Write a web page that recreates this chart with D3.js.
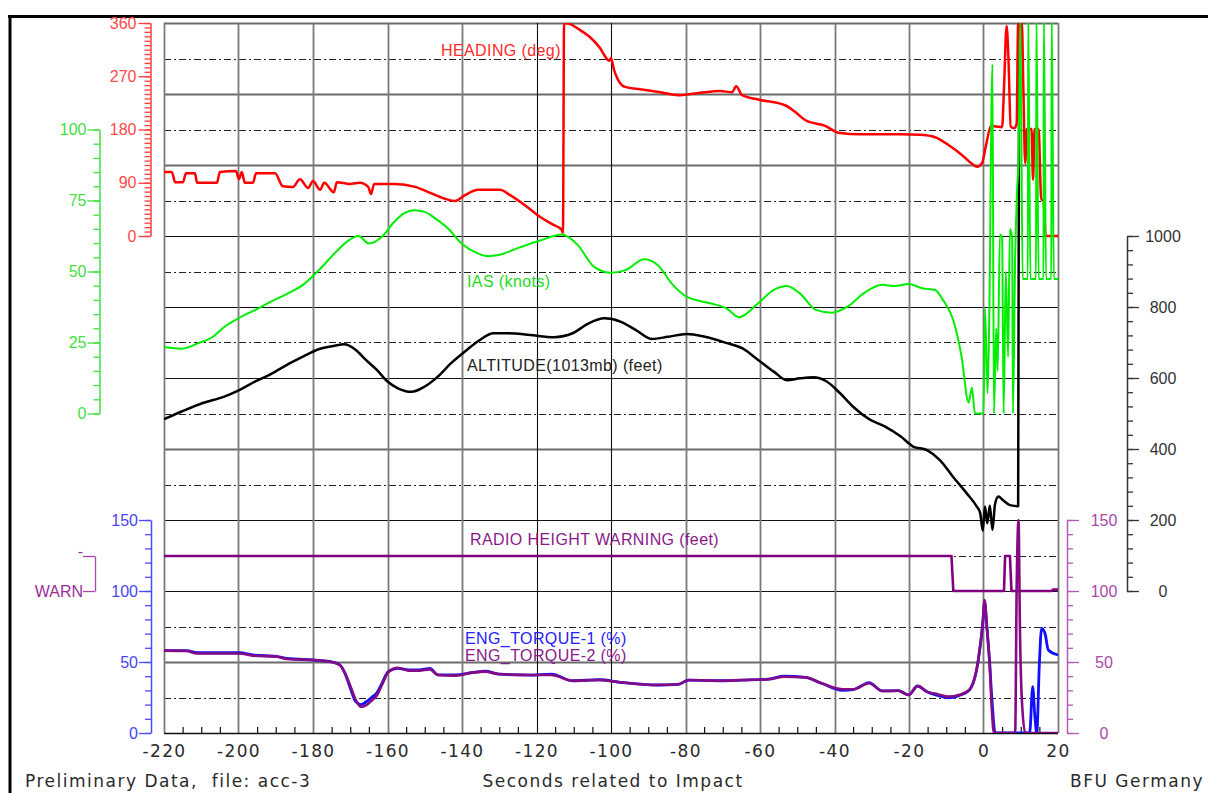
<!DOCTYPE html>
<html><head><meta charset="utf-8">
<script src="https://cdn.jsdelivr.net/npm/d3@7"></script>
<style>body{margin:0;background:#fff}svg{display:block}</style>
</head><body>
<svg id="c" width="1208" height="793"></svg>
<script>
// ---------------- DATA ----------------
const xTicks = [-220,-200,-180,-160,-140,-120,-100,-80,-60,-40,-20,0,20];
const headingTicks = [0,90,180,270,360];
const iasTicks = [0,25,50,75,100];
const altTicks = [0,200,400,600,800,1000];
const torqueTicks = [0,50,100,150];
const warnTicks = [0,1];
const warnLabels = ["WARN","-"];

// [seconds, heading deg]
const headingData = [[-220,108],[-217.9,108],[-217,91],[-214.9,91],[-214.1,106],[-211.7,106],[-211.1,90],[-205.8,90],[-205,108],[-200.7,110],[-199.9,96],[-199.1,108],[-198.3,90],[-196.1,90],[-195.3,106],[-190.2,106],[-188.1,84],[-185.4,83],[-183.5,96],[-181.3,81],[-180,93],[-178.1,78],[-177,90],[-174.4,74],[-173.6,91],[-170.1,88],[-167.4,90],[-165.2,83],[-164.4,71],[-163.6,88],[-158,88],[-152.6,83],[-148.6,73],[-144.6,63],[-141.9,59],[-139.2,69],[-135.7,78],[-129.8,78],[-127.1,69],[-123.1,52],[-119,32],[-115.8,20],[-113.2,10],[-112.9,5],[-112.6,360],[-111,358],[-108.3,348],[-105.6,336],[-103,318],[-101.3,301],[-100.5,296],[-100,301],[-99.2,281],[-98.1,264],[-96.2,252],[-92.2,248],[-86.8,243],[-81.5,238],[-76.1,242],[-70.7,245],[-67.5,243],[-66.4,253],[-64.8,238],[-60,230],[-53.3,221],[-50.6,210],[-47.9,196],[-42.5,186],[-38.5,174],[-33.2,172],[-22.4,172],[-17.1,171],[-13,167],[-9,152],[-5.8,137],[-3.1,122],[-1.7,117],[-0.4,123],[0.7,154],[2,186],[5,184],[5.5,250],[6.2,355],[6.7,300],[7.3,185],[8.3,182],[8.9,190],[9.3,360],[9.8,300],[10.3,360],[10.7,250],[11.2,123],[11.6,181],[12.9,181],[13.3,95],[13.7,181],[14.8,181],[15.5,61],[16.1,61],[16.7,0],[20,0]];

// [seconds, IAS knots]
const iasData = [[-220,23.4],[-215.4,22.8],[-211.1,24.6],[-206.8,27.1],[-204,30.3],[-199.9,33.6],[-194.1,37.4],[-191.3,39.4],[-187,42.1],[-182.7,45.3],[-178.4,50.5],[-174.2,56.4],[-170.6,60.8],[-167.8,62.5],[-165,59.9],[-161.5,62.2],[-158.6,66.9],[-155.7,70.4],[-152.9,71.6],[-150,71],[-147.2,68.7],[-143.8,65.2],[-140.1,59.9],[-135.8,56.4],[-133,55.4],[-130.2,55.8],[-124.5,58.5],[-118.8,61],[-113.2,63],[-108.9,59.3],[-104.6,51.7],[-100.3,49.6],[-96.1,50.5],[-91.1,54.3],[-87.5,52.3],[-83.4,45.3],[-79.8,41.2],[-73.4,38.8],[-69.1,37.1],[-65.6,33.9],[-60.5,38.8],[-56.3,43.5],[-52.8,44.9],[-49.3,42.3],[-45,36.5],[-40.7,35.5],[-36.4,37.7],[-32.2,42.3],[-27.2,45.3],[-23.7,44.9],[-20.1,45.6],[-16.5,44.1],[-13,43.5],[-10.9,40],[-8,32.4],[-5.9,20.1],[-4,3.8],[-3.1,9.1],[-2.3,0],[0,0],[0.4,37],[1.1,7],[1.5,30],[2.4,123],[2.8,0],[3.4,30],[3.8,15],[4.4,63],[5.0,62],[5.4,0],[6.0,50],[6.6,20],[7.1,65],[7.7,62],[7.9,0],[8.5,55],[9.0,78],[9.4,90],[9.9,140],[10.5,47.4],[11.9,47.4],[12.0,140],[12.6,47.4],[14.1,47.4],[14.2,140],[14.8,47.4],[16.1,47.4],[16.2,140],[16.8,47.4],[18.2,47.4],[18.3,140],[18.9,47.4],[20,47.4]];

// [seconds, altitude ft]
const altData = [[-220,484],[-215.4,505],[-209.8,529],[-204,547],[-199.8,566],[-195.6,590],[-191.3,611],[-187,637],[-182.7,660],[-178.5,681],[-174.2,691],[-171.7,695],[-168.5,679],[-165.8,651],[-162.8,622],[-160,590],[-157.2,571],[-153.6,561],[-150,576],[-146.5,604],[-143,641],[-138.7,679],[-135.2,707],[-131.6,726],[-127.4,726],[-121.7,721],[-115.3,715],[-110.3,726],[-106,754],[-101.8,768],[-97.5,759],[-93.3,735],[-89,710],[-84.7,716],[-79.7,724],[-74.8,716],[-69.1,699],[-64.8,684],[-60.5,651],[-56.3,618],[-52.8,594],[-49.3,599],[-45.7,602],[-42.1,590],[-38.5,557],[-35,519],[-30.7,484],[-26.4,463],[-22.2,435],[-18.9,407],[-15.2,397],[-11.7,369],[-8.2,322],[-4.5,275],[-1.8,238],[-0.9,220],[-0.2,170],[0.4,238],[1,191],[1.7,240],[2.4,172],[3.1,245],[4,266],[5.2,256],[7.1,242],[9.3,239],[9.6,1700]];

// [seconds, radio height warning state]
const warnData = [[-220,1],[-8.6,1],[-8.1,0],[5.5,0],[5.8,1],[7.1,1],[7.5,0],[18.4,0],[18.6,0.04],[20,0.04]];

// [seconds, torque %]
const torque1Data = [[-220,58],[-214,58],[-211.1,56.5],[-199.8,56.5],[-196.2,55],[-189.8,54],[-187,52.5],[-179.9,51.4],[-175.6,50.5],[-172.8,48],[-171.4,42],[-169.9,31],[-168.5,22],[-167.1,20],[-165.7,22],[-164.3,25],[-162.8,28.5],[-161.5,35],[-159.7,43.5],[-157.2,45.5],[-154.3,44.5],[-151.5,44.5],[-148.6,45.5],[-146.5,41],[-141.6,41],[-137.3,42.5],[-133.7,43.5],[-130.2,41.5],[-121.7,40.8],[-116,41.5],[-110.3,36.8],[-103.2,37.5],[-97.5,35.7],[-87.5,33.8],[-81.9,34.3],[-79.1,37.3],[-70.5,36.8],[-64.8,37.3],[-57.7,38],[-53.5,40],[-47.8,39.2],[-43.5,35],[-37.9,30],[-35,30.5],[-30.7,35.5],[-27.2,29.6],[-22.9,29.8],[-20.1,26.8],[-17.7,33.1],[-15.2,29.1],[-12.3,26.5],[-9.4,24.8],[-6.6,26.3],[-3.8,30.3],[-1.4,51.4],[-0.2,77.2],[0.3,92],[0.9,74.9],[1.6,51.4],[2.4,18.5],[3.1,0],[12.4,0],[13.2,32.6],[13.8,11.5],[14.3,0],[15,49],[15.6,73.7],[16.5,70.2],[17.4,58.5],[20,55]];
const torque2Data = [[-220,58],[-214,57.7],[-211.1,56],[-199.8,56],[-196.2,54.5],[-189.8,53.8],[-187,52.1],[-179.9,51.4],[-175.6,50.2],[-172.8,47.9],[-171.4,42],[-169.9,32.6],[-168.5,23.2],[-167.1,18.5],[-165.7,19.7],[-164.3,22.7],[-162.8,26.8],[-161.5,33.8],[-159.7,43.2],[-157.2,46],[-154.3,43.9],[-151.5,43.9],[-148.6,44.8],[-146.5,40.8],[-141.6,40.4],[-137.3,42.5],[-133.7,43.2],[-130.2,41.5],[-121.7,40.8],[-116,40.8],[-110.3,36.8],[-103.2,37.3],[-97.5,35.7],[-87.5,33.8],[-81.9,34.3],[-79.1,37.3],[-70.5,36.8],[-64.8,37.3],[-57.7,37.8],[-53.5,39.6],[-47.8,39.2],[-43.5,35],[-37.9,30.8],[-35,30.8],[-30.7,35],[-27.2,29.6],[-22.9,29.8],[-20.1,26.8],[-17.7,33.1],[-15.2,29.1],[-12.3,27.3],[-9.4,25.6],[-6.6,26.8],[-3.8,30.3],[-1.4,51.4],[-0.2,77.2],[0.3,93.7],[0.9,74.9],[1.6,51.4],[2.2,18.5],[2.8,0],[8.5,0],[8.9,100.7],[9.4,150],[9.8,70.2],[10.3,23.2],[11.2,0],[20,0]];

// ---------------- CHART ----------------
const svg = d3.select("#c");
const L = 164, R = 1058, T = 23, B = 733;
const x = d3.scaleLinear().domain([-220,20]).range([L,R]);
const yHead = d3.scaleLinear().domain([0,360]).range([236,T]);
const yIas = d3.scaleLinear().domain([0,100]).range([413.5,129.5]);
const yAlt = d3.scaleLinear().domain([0,1000]).range([591,236]);
const yTq = d3.scaleLinear().domain([0,150]).range([B,520]);
const yWarn = d3.scaleLinear().domain([0,1]).range([591,556]);
const yGrid = d3.scaleLinear().domain([0,20]).range([B,T]);

const ARIAL = "'Liberation Sans', Arial, sans-serif";
const VERD = "'DejaVu Sans', Verdana, sans-serif";

// outer frame
svg.append("line").attr("x1",8).attr("x2",1208).attr("y1",16.5).attr("y2",16.5).attr("stroke","#000").attr("stroke-width",3);
svg.append("line").attr("x1",10).attr("x2",10).attr("y1",15).attr("y2",793).attr("stroke","#000").attr("stroke-width",3);

// horizontal grid
const grid = svg.append("g");
d3.range(0,21).forEach(i => {
  const yy = Math.round(yGrid(i)) + 0.5;
  const ln = grid.append("line").attr("x1",L).attr("x2",R).attr("y1",yy).attr("y2",yy);
  if (i % 2 === 0) {
    const greyLine = [2,8,16,18,20].includes(i);
    ln.attr("stroke", greyLine ? "#6a6a6a" : "#111").attr("stroke-width", greyLine ? 1.8 : 1.1);
  } else {
    ln.attr("stroke","#222").attr("stroke-width",1).attr("stroke-dasharray","7,3,2,3");
  }
});
// vertical grid
xTicks.forEach(t => {
  const dark = (t === -120 || t === -100);
  const xx = Math.round(x(t)) + 0.5;
  grid.append("line").attr("x1",xx).attr("x2",xx).attr("y1",T).attr("y2",B)
    .attr("stroke", dark ? "#111" : "#7a7a7a").attr("stroke-width", dark ? 1.1 : 1.8);
});
grid.append("line").attr("x1",L).attr("x2",R).attr("y1",B+0.5).attr("y2",B+0.5).attr("stroke","#111").attr("stroke-width",1.4);

// minor x ticks (every 5 s)
svg.append("g").attr("transform",`translate(0,${B})`)
  .call(d3.axisTop(x).tickValues(d3.range(-215,20,5).filter(v => v % 20 !== 0)).tickSize(6).tickFormat(""))
  .call(g => g.select(".domain").remove())
  .selectAll("line").attr("stroke","#111").attr("stroke-width",1.2);

// x axis labels
const xa = svg.append("g").attr("transform",`translate(0,${B})`)
  .call(d3.axisBottom(x).tickValues(xTicks).tickSize(0).tickPadding(12).tickFormat(d => String(d)));
xa.select(".domain").remove();
xa.selectAll("text").attr("font-family",VERD).attr("font-size",17).attr("fill","#2a2a2a").attr("letter-spacing","1.4px");

// helper for y axes
function yAxis(make, tx, major, minor, color, labelColor) {
  const g = svg.append("g").attr("transform",`translate(${tx},0)`)
    .call(make().tickValues(minor).tickSize(6).tickFormat(""));
  g.select(".domain").remove();
  const m = svg.append("g").attr("transform",`translate(${tx},0)`)
    .call(make().tickValues(major).tickSize(12).tickSizeOuter(0).tickFormat(d => String(d)));
  g.selectAll("line").attr("stroke",color).attr("stroke-width",1.3);
  m.selectAll("line").attr("stroke",color).attr("stroke-width",1.3);
  m.select(".domain").attr("stroke",color).attr("stroke-width",1.5);
  m.selectAll("text").attr("font-family",ARIAL).attr("font-size",16).attr("fill",labelColor);
  return m;
}
// heading (red, left)
yAxis(() => d3.axisLeft(yHead).tickPadding(2), 150.5, headingTicks, d3.range(0,361,7.5), "#ff3c3c", "#ff4a4a");
// IAS (green, left)
yAxis(() => d3.axisLeft(yIas).tickPadding(1), 99.5, iasTicks, d3.range(0,101,5), "#3ee03e", "#44dd44");
// torque-1 (blue, left)
yAxis(() => d3.axisLeft(yTq).tickPadding(1), 151, torqueTicks, d3.range(0,151,10), "#4a4aff", "#4646f0");
// altitude (black, right)
const alt = yAxis(() => d3.axisRight(yAlt), 1127, altTicks, d3.range(0,1001,40), "#333", "#333");
alt.selectAll("text").attr("text-anchor","middle").attr("x",36);
// torque-2 (purple, right)
const tq2 = yAxis(() => d3.axisRight(yTq), 1067, torqueTicks, d3.range(0,151,10), "#b45ab4", "#a848a8");
tq2.selectAll("text").attr("text-anchor","middle").attr("x",37);
// WARN bracket
const wa = svg.append("g").attr("transform","translate(95,0)")
  .call(d3.axisLeft(yWarn).tickValues(warnTicks).tickSize(12).tickSizeOuter(0).tickPadding(0).tickFormat((d,i) => warnLabels[i]));
wa.selectAll("line").attr("stroke","#a848a8").attr("stroke-width",1.3);
wa.select(".domain").attr("stroke","#a848a8").attr("stroke-width",1.3);
wa.selectAll("text").attr("font-family",ARIAL).attr("font-size",16).attr("fill","#9a2e9a");
wa.selectAll(".tick").filter(d => d === 1).select("text").attr("dy","0.05em");

// clip
svg.append("clipPath").attr("id","clip").append("rect").attr("x",L).attr("y",T).attr("width",R-L).attr("height",B-T);
const plot = svg.append("g").attr("clip-path","url(#clip)");

function series(data, yS, color, w, curve) {
  plot.append("path").datum(data)
    .attr("d", d3.line().curve(curve || d3.curveMonotoneX).x(d => x(d[0])).y(d => yS(d[1])))
    .attr("fill","none").attr("stroke",color).attr("stroke-width",w).attr("stroke-linejoin","round");
}
series(altData, yAlt, "#000", 2.5);
series(headingData, yHead, "#ff0000", 2.5);
series(iasData, yIas, "#00ee00", 2);
series(warnData, yWarn, "#800080", 2.6, d3.curveLinear);
series(torque1Data, yTq, "#1010ff", 2.8);
series(torque2Data, yTq, "#850a85", 2.6);

// series labels
function label(txt, xx, yy, color) {
  svg.append("text").attr("x",xx).attr("y",yy).text(txt)
    .attr("font-family",ARIAL).attr("font-size",16).attr("letter-spacing","0.4px").attr("fill",color);
}
label("HEADING (deg)", 441, 56, "#ff2a2a");
label("IAS (knots)", 467, 287, "#22dd22");
label("ALTITUDE(1013mb) (feet)", 467, 371, "#222");
label("RADIO HEIGHT WARNING (feet)", 470, 545, "#8a1a8a");
label("ENG_TORQUE-1 (%)", 465, 644, "#2222ff");
label("ENG_TORQUE-2 (%)", 465, 661, "#8a1a8a");

// footer
function foot(txt, xx, anchor, ls) {
  svg.append("text").attr("x",xx).attr("y",787).text(txt).attr("text-anchor",anchor)
    .attr("font-family",VERD).attr("font-size",17).attr("letter-spacing",ls).attr("fill","#2a2a2a")
    .style("white-space","pre");
}
foot("Preliminary Data,  file: acc-3", 25, "start", "1.5px");
foot("Seconds related to Impact", 613, "middle", "1.5px");
foot("BFU Germany", 1204, "end", "1.5px");
</script>
</body></html>
